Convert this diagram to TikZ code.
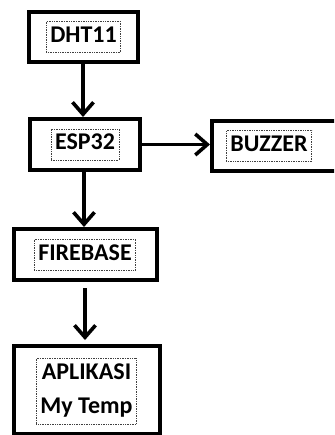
\documentclass[tikz,border=0pt]{standalone}
\usepackage{fontspec}
\setmainfont{Carlito}
\usetikzlibrary{positioning,arrows.meta}

\begin{document}
\begin{tikzpicture}[x=1pt,y=1pt,
	blok/.style={draw=black, line width=4pt, minimum height=51pt},
	tulisan/.style={draw=black!75, densely dotted, line width=0.7pt, inner xsep=4pt, inner ysep=5pt,
		font=\fontsize{24}{34}\selectfont\bfseries, text height=16pt, text depth=5pt, align=center},
	panah/.style={-{Straight Barb[length=12pt,width=21pt]}, line width=3.6pt}]
	\useasboundingbox (0,0) rectangle (334,-435);
	\clip (0,0) rectangle (334,-435);
		\node [blok, minimum width=109pt, minimum height=50pt] (dht) at (83.5,-37) {};
		\node [blok, minimum width=110pt, below=53pt of dht, xshift=1.5pt] (esp) {};
		\node [blok, minimum width=130pt, minimum height=50pt, right=68pt of esp, yshift=-1.5pt] (buzzer) {};
		\node [blok, minimum width=143pt, below=55pt of esp] (fire) {};
		\node [blok, minimum width=146pt, minimum height=88pt, below=62pt of fire, xshift=1.5pt] (app) {};

		\node [tulisan] (dht-txt) at (dht) {DHT11};
		\node [tulisan] (esp-txt) at (esp) {ESP32};
		\node [tulisan, xshift=-8pt] (buzzer-txt) at (buzzer) {BUZZER};
		\node [tulisan] (fire-txt) at (fire) {FIREBASE};
		\node [tulisan, text height=50pt, text depth=6pt, yshift=-1pt] (app-txt) at (app) {APLIKASI\\My Temp};

		\draw [panah] (dht.south) ++(-0.5,0) coordinate (a1) -- (a1 |- esp.north);
		\draw [panah] (esp.east) -- (esp.east -| buzzer.west);
		\draw [panah] (esp.south) ++(-1,0) coordinate (a2) -- (a2 |- fire.north);
		\draw [panah, shorten <=6pt, shorten >=4pt] (fire.south) -- (fire.south |- app.north);
\end{tikzpicture}
\end{document}
